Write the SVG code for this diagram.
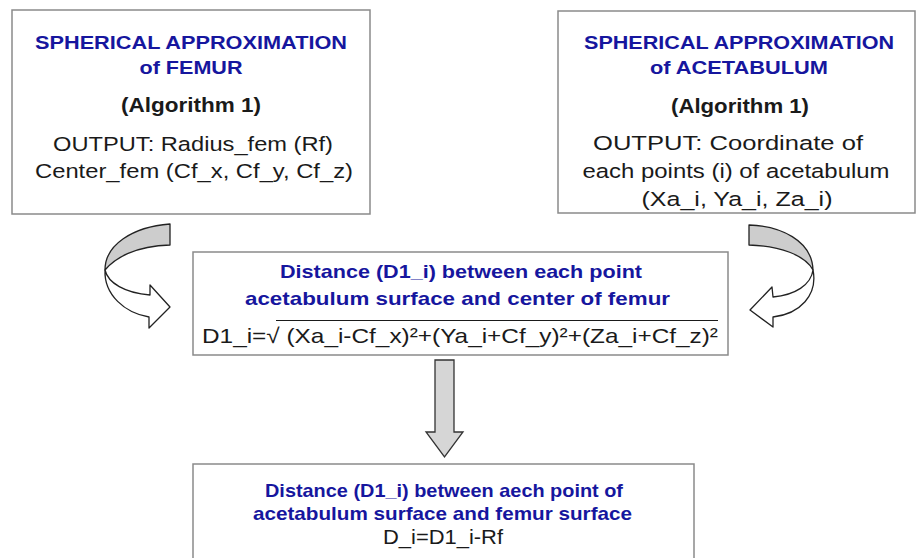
<svg xmlns="http://www.w3.org/2000/svg" width="916" height="558" viewBox="0 0 916 558">
<style>
.box{fill:#fff;stroke:#8a8a8a;stroke-width:1.5}
.t{font-family:"Liberation Sans",Arial,sans-serif;text-anchor:middle}
.hb{font-weight:bold;fill:#16169e;font-size:18.5px}
.ab{font-weight:bold;fill:#1a1a1a;font-size:19.5px}
.mb{font-weight:bold;fill:#16169e;font-size:19px}
.rg{fill:#1a1a1a;font-size:20.5px}
.back{fill:#cdcdcd;stroke:#222;stroke-width:1.3;stroke-linejoin:round}
.front{fill:#fff;stroke:#222;stroke-width:1.3;stroke-linejoin:round}
.down{fill:#d6d6d6;stroke:#333;stroke-width:1.3}
</style>
<rect width="916" height="558" fill="#fff"/>
<g id="femur">
<rect class="box" x="12" y="10" width="358" height="204"/>
<text class="t hb" x="191" y="49" textLength="312" lengthAdjust="spacingAndGlyphs">SPHERICAL APPROXIMATION</text>
<text class="t hb" x="191" y="74" textLength="103" lengthAdjust="spacingAndGlyphs">of FEMUR</text>
<text class="t ab" x="191" y="112" textLength="140" lengthAdjust="spacingAndGlyphs">(Algorithm 1)</text>
<text class="t rg" x="193" y="151" textLength="280" lengthAdjust="spacingAndGlyphs">OUTPUT: Radius_fem (Rf)</text>
<text class="t rg" x="194" y="178" textLength="318" lengthAdjust="spacingAndGlyphs">Center_fem (Cf_x, Cf_y, Cf_z)</text>
</g>
<g id="acetabulum">
<rect class="box" x="558" y="11" width="357" height="202"/>
<text class="t hb" x="739" y="49" textLength="310" lengthAdjust="spacingAndGlyphs">SPHERICAL APPROXIMATION</text>
<text class="t hb" x="739" y="74" textLength="178" lengthAdjust="spacingAndGlyphs">of ACETABULUM</text>
<text class="t ab" x="740" y="113" textLength="138" lengthAdjust="spacingAndGlyphs">(Algorithm 1)</text>
<text class="t rg" x="728" y="150" textLength="270" lengthAdjust="spacingAndGlyphs">OUTPUT: Coordinate of</text>
<text class="t rg" x="736" y="178" textLength="307" lengthAdjust="spacingAndGlyphs">each points (i) of acetabulum</text>
<text class="t rg" x="737" y="206" textLength="191" lengthAdjust="spacingAndGlyphs">(Xa_i, Ya_i, Za_i)</text>
</g>
<g id="distance-center">
<rect class="box" x="193" y="252" width="535" height="103"/>
<text class="t mb" x="461" y="278" textLength="362" lengthAdjust="spacingAndGlyphs">Distance (D1_i) between each point</text>
<text class="t mb" x="457.5" y="305" textLength="425" lengthAdjust="spacingAndGlyphs">acetabulum surface and center of femur</text>
<text class="t rg" x="460" y="343" style="font-size:21px" textLength="516" lengthAdjust="spacingAndGlyphs">D1_i=√ (Xa_i-Cf_x)²+(Ya_i+Cf_y)²+(Za_i+Cf_z)²</text>
<line x1="276" y1="320.5" x2="718" y2="320.5" stroke="#1a1a1a" stroke-width="1.2"/>
</g>
<g id="distance-surface">
<rect class="box" x="193" y="464" width="501" height="120"/>
<text class="t mb" x="444" y="497" textLength="358" lengthAdjust="spacingAndGlyphs">Distance (D1_i) between aech point of</text>
<text class="t mb" x="442.5" y="520" textLength="379" lengthAdjust="spacingAndGlyphs">acetabulum surface and femur surface</text>
<text class="t rg" x="443" y="544" style="font-size:21px" textLength="120" lengthAdjust="spacingAndGlyphs">D_i=D1_i-Rf</text>
</g>
<g id="connectors">
<path class="back" d="M170,224 C132,227 105,245 105,270 C115,258 135,246 170,245 Z"/>
<path class="front" d="M105,270 C108,283 125,293 150,295 L150,285 L170,307 L149,328 L149,317 C125,313 104,295 105,270 Z"/>
<path class="back" d="M749,225 C780,226 812,240 813,270 C805,255 780,246 749,245 Z"/>
<path class="front" d="M813,270 C811,285 795,295 773,297 L772,287 L750,310 L773,327 L773,317 C800,314 818,295 813,270 Z"/>
<path class="down" d="M435,360 L454,360 L454,432 L463,432 L444.5,457 L426,432 L435,432 Z"/>
</g>
</svg>
